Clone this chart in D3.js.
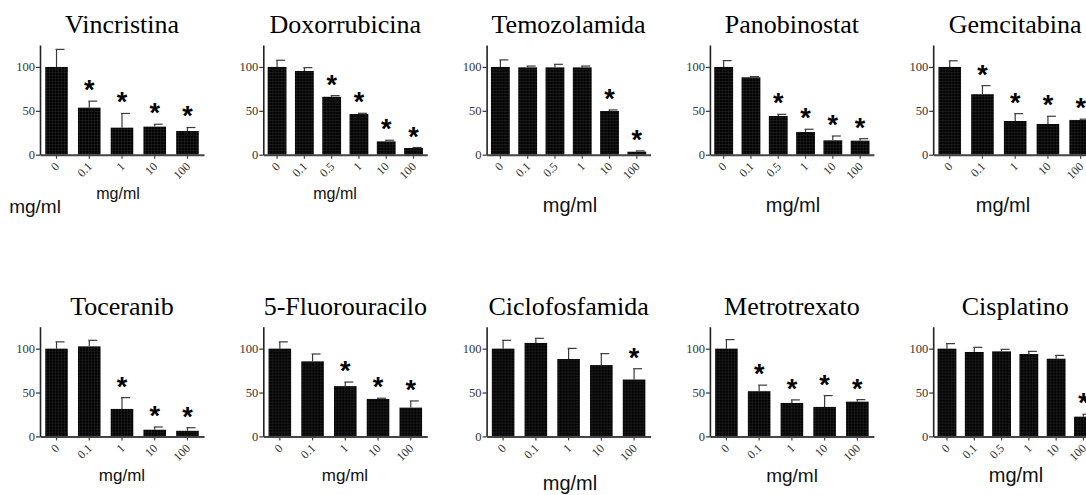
<!DOCTYPE html>
<html>
<head>
<meta charset="utf-8">
<script src="https://cdn.jsdelivr.net/npm/d3@7"></script>
<style>
  html, body { margin: 0; padding: 0; background: #fff; }
  svg { display: block; }
</style>
</head>
<body>
<svg id="chart" width="1086" height="495"></svg>
<script>
// doses (mg/ml) for each drug
const dosesFive = ['0', '0.1', '1', '10', '100'];
const dosesSix = ['0', '0.1', '0.5', '1', '10', '100'];

// % viability (mean), upper error (sem) and significance
const vincristinaMean = [100, 53.6, 30.8, 32, 27];
const vincristinaSem = [20, 7.4, 16.2, 2.7, 4];
const vincristinaSig = [0, 1, 1, 1, 1];

const doxorrubicinaMean = [100, 95.4, 66, 46.4, 15.2, 7.6];
const doxorrubicinaSem = [7.6, 3.8, 1.3, 0.8, 1.3, 0.6];
const doxorrubicinaSig = [0, 0, 1, 1, 1, 1];

const temozolamidaMean = [100, 99.5, 99.5, 99.5, 49.8, 3.4];
const temozolamidaSem = [8, 1.5, 3.5, 1.5, 1.2, 0.9];
const temozolamidaSig = [0, 0, 0, 0, 1, 1];

const panobinostatMean = [100, 88.2, 44.1, 25.9, 16.4, 16];
const panobinostatSem = [7.2, 0.8, 1.9, 3.1, 4.9, 2.2];
const panobinostatSig = [0, 0, 1, 1, 1, 1];

const gemcitabinaMean = [100, 68.9, 38.4, 35, 39.6];
const gemcitabinaSem = [7, 9.8, 8.4, 8.8, 0.9];
const gemcitabinaSig = [0, 1, 1, 1, 1];

const toceranibMean = [100, 102.6, 31.3, 7.6, 6.4];
const toceranibSem = [7.7, 6.9, 12.9, 3.1, 3.5];
const toceranibSig = [0, 0, 1, 1, 1];

const fluorouraciloMean = [100, 85.5, 57.3, 42.7, 32.8];
const fluorouraciloSem = [7.7, 8.4, 4.6, 0.8, 7.6];
const fluorouraciloSig = [0, 0, 1, 1, 1];

const ciclofosfamidaMean = [100, 106.5, 88.2, 81.3, 64.8];
const ciclofosfamidaSem = [9.5, 5.3, 12.1, 13, 12.3];
const ciclofosfamidaSig = [0, 0, 0, 0, 1];

const metrotrexatoMean = [100, 51.5, 38.1, 33.6, 39.6];
const metrotrexatoSem = [10.3, 6.9, 3.5, 12.9, 2.3];
const metrotrexatoSig = [0, 1, 1, 1, 1];

const cisplatinoMean = [100, 96.2, 96.9, 93.9, 88.5, 22.5];
const cisplatinoSem = [5.7, 5.3, 2.3, 3, 3.8, 2.7];
const cisplatinoSig = [0, 0, 0, 0, 0, 1];

const yTicks = [0, 50, 100];
const unitLabel = 'mg/ml';

const panels = [
  { title: 'Vincristina', doses: dosesFive, mean: vincristinaMean, sem: vincristinaSem, sig: vincristinaSig },
  { title: 'Doxorrubicina', doses: dosesSix, mean: doxorrubicinaMean, sem: doxorrubicinaSem, sig: doxorrubicinaSig },
  { title: 'Temozolamida', doses: dosesSix, mean: temozolamidaMean, sem: temozolamidaSem, sig: temozolamidaSig },
  { title: 'Panobinostat', doses: dosesSix, mean: panobinostatMean, sem: panobinostatSem, sig: panobinostatSig },
  { title: 'Gemcitabina', doses: dosesFive, mean: gemcitabinaMean, sem: gemcitabinaSem, sig: gemcitabinaSig },
  { title: 'Toceranib', doses: dosesFive, mean: toceranibMean, sem: toceranibSem, sig: toceranibSig },
  { title: '5-Fluorouracilo', doses: dosesFive, mean: fluorouraciloMean, sem: fluorouraciloSem, sig: fluorouraciloSig },
  { title: 'Ciclofosfamida', doses: dosesFive, mean: ciclofosfamidaMean, sem: ciclofosfamidaSem, sig: ciclofosfamidaSig },
  { title: 'Metrotrexato', doses: dosesFive, mean: metrotrexatoMean, sem: metrotrexatoSem, sig: metrotrexatoSig },
  { title: 'Cisplatino', doses: dosesSix, mean: cisplatinoMean, sem: cisplatinoSem, sig: cisplatinoSig },
];

// where the "mg/ml" labels sit in the original figure (x center, baseline, size)
const unitSpots = [
  [118, 199, 16], [335, 199, 16], [570, 212, 20], [793, 212, 20], [1003, 212, 20],
  [122, 481, 17], [345, 481, 17], [570, 490, 20], [792, 482, 19], [1016, 482, 20],
  [35, 213, 19],
];

const serif = '"Liberation Serif", "Times New Roman", serif';
const sans = '"Liberation Sans", Arial, sans-serif';

const svg = d3.select('#chart');

// dark bars with a faint grid, like the scanned figure
const pat = svg.append('defs').append('pattern')
  .attr('id', 'grid')
  .attr('patternUnits', 'userSpaceOnUse')
  .attr('width', 3)
  .attr('height', 3);
pat.append('rect').attr('width', 3).attr('height', 3).attr('fill', '#030303');
pat.append('path').attr('d', 'M0,0.5H3M0.5,0V3').attr('stroke', '#222').attr('stroke-width', 0.6);

const plotW = 164;
const plotH = 109.7;
const colStep = 223.3;
const left0 = 40;
const baseRows = [154.7, 436.4];

const y = d3.scaleLinear().domain([0, 125]).range([plotH, 0]);

panels.forEach((p, i) => {
  const col = i % 5;
  const row = Math.floor(i / 5);
  const g = svg.append('g')
    .attr('transform', `translate(${left0 + col * colStep}, ${baseRows[row] - plotH})`);

  const x = d3.scaleBand()
    .domain(p.doses)
    .range([0, plotW])
    .paddingInner(0.31)
    .paddingOuter(0.16);

  const rows = p.doses.map((d, k) => ({ dose: d, mean: p.mean[k], sem: p.sem[k], sig: p.sig[k] }));

  g.append('text')
    .attr('x', plotW / 2)
    .attr('y', -121.7 + plotH)
    .attr('text-anchor', 'middle')
    .attr('font-family', serif)
    .attr('font-size', 26)
    .attr('fill', '#000')
    .text(p.title);

  g.selectAll('.bar')
    .data(rows)
    .join('rect')
    .attr('class', 'bar')
    .attr('x', (d) => x(d.dose))
    .attr('y', (d) => y(d.mean))
    .attr('width', x.bandwidth())
    .attr('height', (d) => y(0) - y(d.mean))
    .attr('fill', 'url(#grid)');

  const err = g.selectAll('.err')
    .data(rows)
    .join('g')
    .attr('class', 'err')
    .attr('stroke', '#3a3a3a')
    .attr('stroke-width', 1.2);
  err.append('line')
    .attr('x1', (d) => x(d.dose) + x.bandwidth() / 2)
    .attr('x2', (d) => x(d.dose) + x.bandwidth() / 2)
    .attr('y1', (d) => y(d.mean))
    .attr('y2', (d) => y(d.mean + d.sem));
  err.append('line')
    .attr('x1', (d) => x(d.dose) + x.bandwidth() / 2 - 1)
    .attr('x2', (d) => x(d.dose) + x.bandwidth() / 2 + 8)
    .attr('y1', (d) => y(d.mean + d.sem))
    .attr('y2', (d) => y(d.mean + d.sem));

  g.selectAll('.star')
    .data(rows.filter((d) => d.sig))
    .join('text')
    .attr('class', 'star')
    .attr('x', (d) => x(d.dose) + x.bandwidth() / 2)
    .attr('y', (d) => y(d.mean + d.sem) - 2)
    .attr('text-anchor', 'middle')
    .attr('font-family', sans)
    .attr('font-weight', 'bold')
    .attr('font-size', 27)
    .attr('fill', '#000')
    .text('*');

  g.append('g')
    .call(d3.axisLeft(y).tickValues(yTicks).tickSize(4).tickSizeOuter(0).tickPadding(1))
    .call((a) => a.select('.domain').attr('stroke', '#222').attr('stroke-width', 1.6))
    .call((a) => a.selectAll('.tick line').attr('stroke', '#333').attr('stroke-width', 1.2))
    .call((a) => a.selectAll('.tick text')
      .attr('font-family', serif)
      .attr('font-size', 12.5)
      .attr('fill', '#333'));

  g.append('g')
    .attr('transform', `translate(0, ${plotH})`)
    .call(d3.axisBottom(x).tickSize(4).tickSizeOuter(0))
    .call((a) => a.select('.domain').attr('stroke', '#444').attr('stroke-width', 2))
    .call((a) => a.selectAll('.tick line').attr('stroke', '#444').attr('stroke-width', 1.2))
    .call((a) => a.selectAll('.tick text')
      .attr('font-family', serif)
      .attr('font-size', 12)
      .attr('fill', '#333')
      .attr('text-anchor', 'end')
      .attr('x', 0)
      .attr('y', 0)
      .attr('dy', '0.3em')
      .attr('transform', 'translate(1, 10) rotate(-45)'));
});

svg.selectAll('.unit')
  .data(unitSpots)
  .join('text')
  .attr('class', 'unit')
  .attr('x', (d) => d[0])
  .attr('y', (d) => d[1])
  .attr('text-anchor', 'middle')
  .attr('font-family', sans)
  .attr('font-size', (d) => d[2])
  .attr('fill', '#111')
  .text(unitLabel);
</script>
</body>
</html>
